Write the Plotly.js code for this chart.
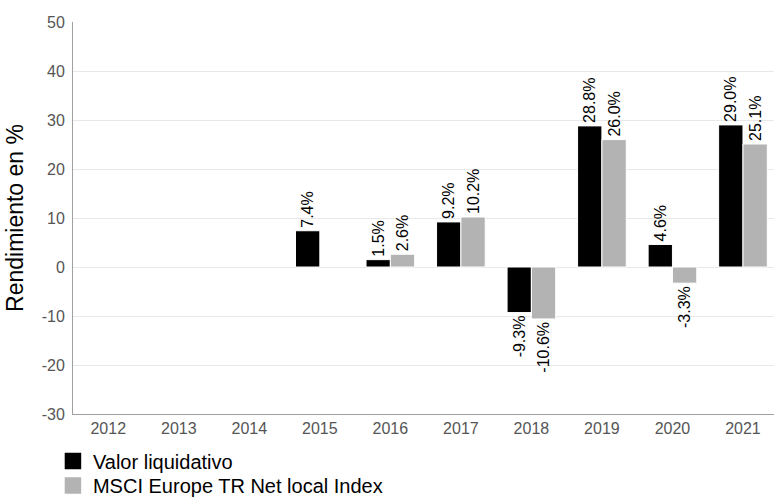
<!DOCTYPE html>
<html><head><meta charset="utf-8">
<script src="https://cdn.plot.ly/plotly-3.0.1.min.js"></script>
<style>html,body{margin:0;padding:0;background:#fff}</style>
</head><body>
<div id="chart" style="width:774px;height:500px"></div>
<script>
const years = ['2012','2013','2014','2015','2016','2017','2018','2019','2020','2021'];
const fundValues = [null, null, null, 7.4, 1.5, 9.2, -9.3, 28.8, 4.6, 29.0];
const indexValues = [null, null, null, null, 2.6, 10.2, -10.6, 26.0, -3.3, 25.1];
const seriesNames = ['Valor liquidativo', 'MSCI Europe TR Net local Index'];
const yTicks = [-30, -20, -10, 0, 10, 20, 30, 40, 50];

const FONT = 'Liberation Sans, Arial, sans-serif';
function mk(vals, name, color, legendId) {
  return {
    type: 'bar', x: years, y: vals, name: name, legend: legendId,
    text: vals.map(v => v == null ? '' : v.toFixed(1) + '%'),
    texttemplate: '%{text}',
    marker: {color: color, line: {color: '#ffffff', width: 1}},
    textposition: 'outside', textangle: -90, constraintext: 'none',
    textfont: {family: FONT, size: 16, color: '#000'},
    cliponaxis: false, hoverinfo: 'none'
  };
}
const data = [
  mk(fundValues, seriesNames[0], '#000000', 'legend'),
  mk(indexValues, seriesNames[1], '#b3b3b3', 'legend2')
];
const legendBase = {orientation: 'v', x: -0.0286, xanchor: 'left',
  font: {size: 20, color: '#000'}, itemwidth: 30, bgcolor: 'rgba(0,0,0,0)', borderwidth: 0};
const layout = {
  width: 774, height: 500,
  margin: {l: 73, r: 0, t: 22, b: 86},
  paper_bgcolor: '#fff', plot_bgcolor: '#fff',
  font: {family: FONT, color: '#000'},
  barmode: 'group', bargap: 0.31, bargroupgap: 0,
  xaxis: {type: 'category', range: [-0.5, 9.44], showgrid: false, showline: true, linecolor: '#a0a0a0', linewidth: 1,
          ticks: '', tickfont: {size: 16, color: '#555'}, zeroline: false, fixedrange: true},
  yaxis: {range: [-30, 50], tickvals: yTicks, ticktext: yTicks.map(String),
          showgrid: true, gridcolor: '#e8e8e8',
          showline: true, linecolor: '#a0a0a0', zeroline: false, ticks: '', ticklabelstandoff: 4,
          tickfont: {size: 16, color: '#555'},
          title: {text: 'Rendimiento en %', font: {size: 23, color: '#000'}, standoff: 11}},
  showlegend: true,
  legend: Object.assign({}, legendBase, {y: -0.1199, yanchor: 'middle'}),
  legend2: Object.assign({}, legendBase, {y: -0.2194, yanchor: 'bottom'}),
};
Plotly.newPlot('chart', data, layout, {staticPlot: true}).then(gd => {
  gd.querySelectorAll('.legendpoints path').forEach(p => {
    p.setAttribute('transform', (p.getAttribute('transform') || '') + ' scale(1.5)');
  });
  const lg2 = gd.querySelector('g.legend2');
  if (lg2) {
    const m = /translate\(\s*([-\d.]+)[ ,]+([-\d.]+)\s*\)/.exec(lg2.getAttribute('transform') || '');
    if (m) lg2.setAttribute('transform', 'translate(' + m[1] + ',' + (parseFloat(m[2]) + 5) + ')');
  }
});
</script>
</body></html>
